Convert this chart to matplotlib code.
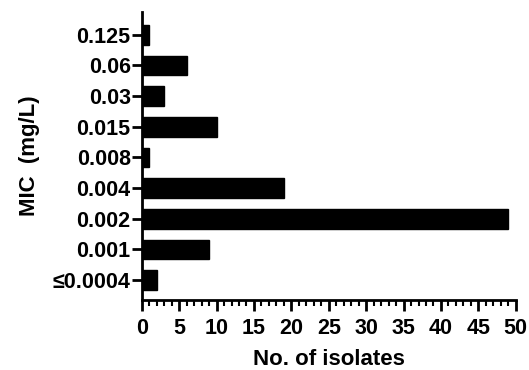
import matplotlib.pyplot as plt
import numpy as np

plt.rcParams["font.family"] = ["Liberation Sans", "DejaVu Sans"]
plt.rcParams["font.weight"] = "bold"

mic_labels = ["≤0.0004", "0.001", "0.002", "0.004", "0.008", "0.015", "0.03", "0.06", "0.125"]
n_isolates = [2, 9, 49, 19, 1, 10, 3, 6, 1]

fig = plt.figure(figsize=(5.29, 3.70), dpi=100)
ax = fig.add_axes([0.268, 0.189, 0.707, 0.779])

pos = np.arange(len(mic_labels))
ax.barh(pos, n_isolates, height=0.65, color="black", edgecolor="black")

ax.set_xlim(0, 50)
ax.set_ylim(-0.65, len(mic_labels) - 1 + 0.75)
ax.set_yticks(pos)
ax.set_yticklabels(mic_labels)
ax.set_xticks(np.arange(0, 51, 5))
ax.set_xticks(np.arange(0, 51, 1), minor=True)

for side in ["top", "right"]:
    ax.spines[side].set_visible(False)
for side in ["left", "bottom"]:
    ax.spines[side].set_linewidth(2)

ax.tick_params(axis="y", which="major", width=2, length=7, labelsize=15.5, pad=1)
ax.tick_params(axis="x", which="major", width=2, length=8, labelsize=15.5, pad=5)
ax.tick_params(axis="x", which="minor", width=1.5, length=4)

ax.set_xlabel("No. of isolates", fontsize=16, fontweight="bold", labelpad=7)
ax.set_ylabel("MIC  (mg/L)", fontsize=16, fontweight="bold", labelpad=9)

fig.savefig("out.png", dpi=100)
